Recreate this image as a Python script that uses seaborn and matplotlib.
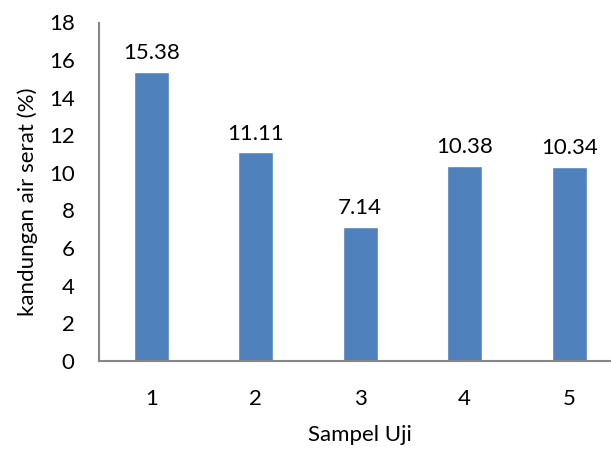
import matplotlib
matplotlib.use("Agg")
import matplotlib.pyplot as plt
import seaborn as sns
import pandas as pd

samples = ["1", "2", "3", "4", "5"]
moisture = [15.38, 11.11, 7.14, 10.38, 10.34]
y_ticks = [0, 2, 4, 6, 8, 10, 12, 14, 16, 18]

sns.set_theme(style="white")
plt.rcParams["font.family"] = ["Lato", "DejaVu Sans"]

df = pd.DataFrame({"sample": samples, "value": moisture})

fig = plt.figure(figsize=(6.11, 4.5), dpi=100)
ax = fig.add_axes([0.162, 0.198, 0.855, 0.752])

sns.barplot(data=df, x="sample", y="value", color="#4F81BD", width=0.335,
            saturation=1, ax=ax)

fs = 16
for i, v in enumerate(moisture):
    ax.annotate(f"{v:.2f}", (i, v), xytext=(0, 6), textcoords="offset points",
                ha="center", va="bottom", fontsize=fs, color="black")

ax.set_xlim(-0.5, 4.5)
ax.set_ylim(0, 18)
ax.set_yticks(y_ticks)
ax.tick_params(axis="y", direction="out", length=5.5, width=1.2, color="#868686",
               labelsize=fs, pad=12, labelcolor="black")
ax.tick_params(axis="x", length=0, labelsize=fs, pad=20.5, labelcolor="black")

for side in ["top", "right"]:
    ax.spines[side].set_visible(False)
for side in ["left", "bottom"]:
    ax.spines[side].set_color("#868686")
    ax.spines[side].set_linewidth(1.5)

ax.set_xlabel("Sampel Uji", fontsize=fs, labelpad=11, color="black")
ax.set_ylabel("kandungan air serat (%)", fontsize=fs, labelpad=8, color="black",
              y=0.47)

fig.savefig("out.png", dpi=100)
